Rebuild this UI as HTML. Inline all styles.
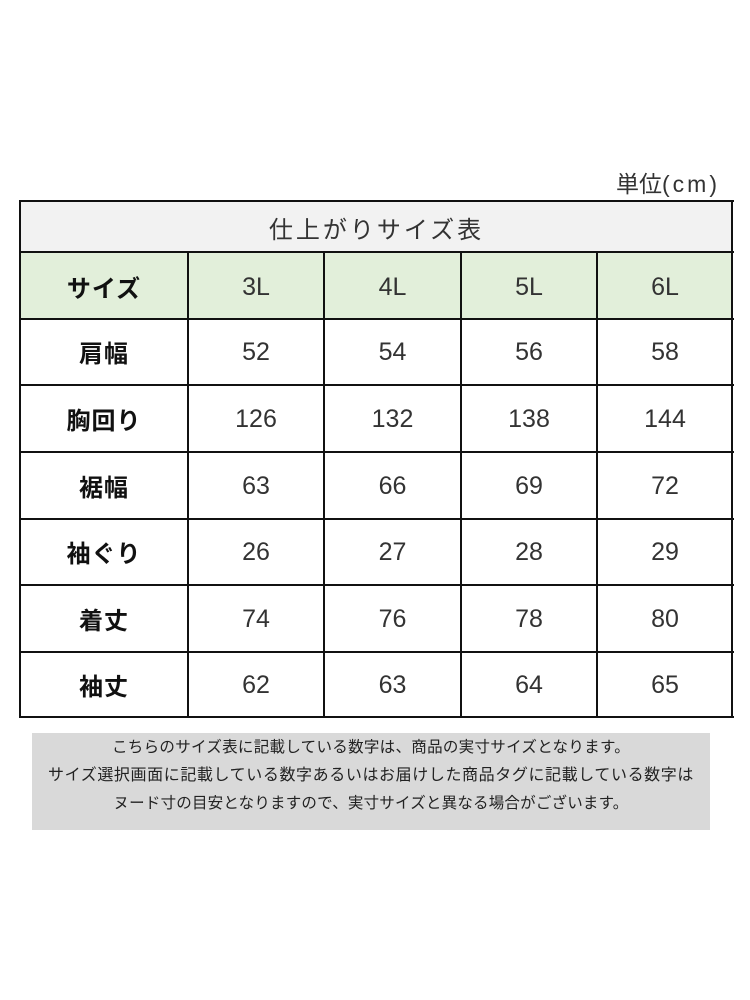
<!DOCTYPE html>
<html><head><meta charset="utf-8">
<style>
html,body{margin:0;padding:0;background:#fff;}
body{width:750px;height:1000px;position:relative;overflow:hidden;font-family:"Liberation Sans","Noto Sans CJK JP",sans-serif;}
.abs{position:absolute;}
.h{position:absolute;height:2px;background:#111;}
.v{position:absolute;width:2px;background:#111;}
.cell{position:absolute;display:flex;align-items:center;justify-content:center;color:#333;font-size:25px;}
.lbl{font-weight:bold;color:#111;font-size:24px;letter-spacing:1px;}
.note{position:absolute;left:32px;width:678px;text-align:center;font-size:16px;color:#222;line-height:20px;white-space:nowrap;}
</style></head><body>
<div class="abs" style="left:616px;top:165px;font-size:23px;color:#333;white-space:nowrap;">単位<span style="letter-spacing:3px;">(cm)</span></div>

<!-- backgrounds -->
<div class="abs" style="left:20px;top:201px;width:713px;height:51px;background:#f2f2f2;"></div>
<div class="abs" style="left:20px;top:252px;width:713px;height:67px;background:#e2efda;"></div>

<div class="cell" style="left:20px;top:202px;width:713px;height:51px;font-size:24px;letter-spacing:3px;color:#333;">仕上がりサイズ表</div>

<!-- horizontal lines -->
<div class="h" style="left:19px;width:715px;top:200px;"></div>
<div class="h" style="left:19px;width:715px;top:251px;"></div>
<div class="h" style="left:19px;width:715px;top:318px;"></div>
<div class="h" style="left:19px;width:715px;top:384px;"></div>
<div class="h" style="left:19px;width:715px;top:451px;"></div>
<div class="h" style="left:19px;width:715px;top:518px;"></div>
<div class="h" style="left:19px;width:715px;top:584px;"></div>
<div class="h" style="left:19px;width:715px;top:651px;"></div>
<div class="h" style="left:19px;width:715px;top:716px;"></div>
<!-- vertical lines -->
<div class="v" style="left:19px;top:200px;height:518px;"></div>
<div class="v" style="left:731px;top:200px;height:518px;"></div>
<div class="v" style="left:187px;top:251px;height:467px;"></div>
<div class="v" style="left:323px;top:251px;height:467px;"></div>
<div class="v" style="left:460px;top:251px;height:467px;"></div>
<div class="v" style="left:596px;top:251px;height:467px;"></div>

<!-- header row -->
<div class="cell lbl" style="left:20px;top:253px;width:168px;height:66px;">サイズ</div>
<div class="cell" style="left:188px;top:254px;width:136px;height:66px;">3L</div>
<div class="cell" style="left:324px;top:254px;width:137px;height:66px;">4L</div>
<div class="cell" style="left:461px;top:254px;width:136px;height:66px;">5L</div>
<div class="cell" style="left:597px;top:254px;width:136px;height:66px;">6L</div>

<!-- rows -->
<div class="cell lbl" style="left:20px;top:319px;width:168px;height:64px;">肩幅</div>
<div class="cell" style="left:188px;top:320px;width:136px;height:64px;">52</div>
<div class="cell" style="left:324px;top:320px;width:137px;height:64px;">54</div>
<div class="cell" style="left:461px;top:320px;width:136px;height:64px;">56</div>
<div class="cell" style="left:597px;top:320px;width:136px;height:64px;">58</div>

<div class="cell lbl" style="left:20px;top:386px;width:168px;height:64px;">胸回り</div>
<div class="cell" style="left:188px;top:387px;width:136px;height:64px;">126</div>
<div class="cell" style="left:324px;top:387px;width:137px;height:64px;">132</div>
<div class="cell" style="left:461px;top:387px;width:136px;height:64px;">138</div>
<div class="cell" style="left:597px;top:387px;width:136px;height:64px;">144</div>

<div class="cell lbl" style="left:20px;top:453px;width:168px;height:64px;">裾幅</div>
<div class="cell" style="left:188px;top:454px;width:136px;height:64px;">63</div>
<div class="cell" style="left:324px;top:454px;width:137px;height:64px;">66</div>
<div class="cell" style="left:461px;top:454px;width:136px;height:64px;">69</div>
<div class="cell" style="left:597px;top:454px;width:136px;height:64px;">72</div>

<div class="cell lbl" style="left:20px;top:519px;width:168px;height:64px;">袖ぐり</div>
<div class="cell" style="left:188px;top:520px;width:136px;height:64px;">26</div>
<div class="cell" style="left:324px;top:520px;width:137px;height:64px;">27</div>
<div class="cell" style="left:461px;top:520px;width:136px;height:64px;">28</div>
<div class="cell" style="left:597px;top:520px;width:136px;height:64px;">29</div>

<div class="cell lbl" style="left:20px;top:586px;width:168px;height:64px;">着丈</div>
<div class="cell" style="left:188px;top:587px;width:136px;height:64px;">74</div>
<div class="cell" style="left:324px;top:587px;width:137px;height:64px;">76</div>
<div class="cell" style="left:461px;top:587px;width:136px;height:64px;">78</div>
<div class="cell" style="left:597px;top:587px;width:136px;height:64px;">80</div>

<div class="cell lbl" style="left:20px;top:652px;width:168px;height:64px;">袖丈</div>
<div class="cell" style="left:188px;top:653px;width:136px;height:64px;">62</div>
<div class="cell" style="left:324px;top:653px;width:137px;height:64px;">63</div>
<div class="cell" style="left:461px;top:653px;width:136px;height:64px;">64</div>
<div class="cell" style="left:597px;top:653px;width:136px;height:64px;">65</div>

<!-- note box -->
<div class="abs" style="left:32px;top:733px;width:678px;height:97px;background:#d9d9d9;"></div>
<div class="note" style="top:738px;font-size:15.5px;letter-spacing:0.3px;">こちらのサイズ表に記載している数字は、商品の実寸サイズとなります。</div>
<div class="note" style="top:766px;letter-spacing:0.6px;">サイズ選択画面に記載している数字あるいはお届けした商品タグに記載している数字は</div>
<div class="note" style="top:794px;font-size:15.5px;letter-spacing:0.2px;">ヌード寸の目安となりますので、実寸サイズと異なる場合がございます。</div>
</body></html>
